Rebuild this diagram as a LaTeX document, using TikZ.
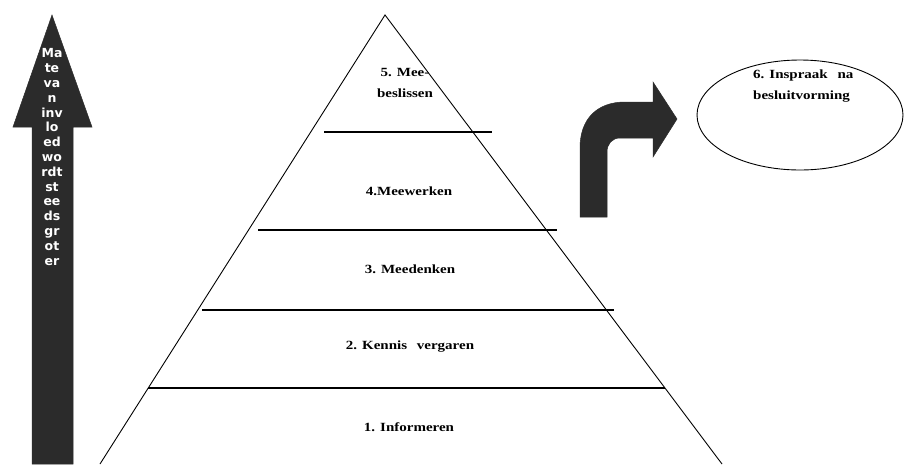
\documentclass[tikz,border=0pt]{standalone}
\usepackage{fontspec}
\newfontfamily\pyrfont{Liberation Serif}[FakeStretch=1.2]
\newfontfamily\arrfont{DejaVu Sans}
\definecolor{arrowgray}{HTML}{2B2B2B}
\begin{document}
\begin{tikzpicture}[x=1pt,y=-1pt,
  edge/.style={black, line width=0.9pt},
  level/.style={black, line width=1.4pt},
  lbl/.style={font=\pyrfont\bfseries\fontsize{12.5}{21}\selectfont, inner sep=0pt, align=center},
  bigarrow/.style={fill=arrowgray, draw=arrowgray, line width=0.5pt}
]
\useasboundingbox (0,0) rectangle (905,464);
\fill[white] (0,0) rectangle (905,464);

% vertical arrow on the left
\path[bigarrow] (52,15) -- (92,127) -- (73,127) -- (73,464) -- (32,464) -- (32,127) -- (13,127) -- cycle;
\node[font=\arrfont\bfseries\fontsize{12.5}{14.8}\selectfont, text=white, align=center, inner sep=0pt] (mate) at (52,157)
  {Ma\\te\\va\\n\\inv\\lo\\ed\\wo\\rdt\\st\\ee\\ds\\gr\\ot\\er};

% pyramid
\coordinate (apex) at (385,15);
\coordinate (bl) at (100,464);
\coordinate (br) at (722,464);
\draw[edge] (bl) -- (apex) -- (br);

\coordinate (a5) at (324,132); \coordinate (b5) at (492,132);
\coordinate (a4) at (258,230); \coordinate (b4) at (557,230);
\coordinate (a3) at (202,310); \coordinate (b3) at (614,310);
\coordinate (a2) at (148,388); \coordinate (b2) at (665,388);
\draw[level] (a5) -- (b5);
\draw[level] (a4) -- (b4);
\draw[level] (a3) -- (b3);
\draw[level] (a2) -- (b2);

\node[lbl] (t5) at (405,83) {5. Mee-\\beslissen};
\node[lbl] (t4) at (409,191) {4.Meewerken};
\node[lbl] (t3) at (410,269) {3. Meedenken};
\node[lbl] (t2) at (410,347) {2. Kennis\hspace{6pt} vergaren};
\node[lbl] (t1) at (409,427) {1. Informeren};

% bent arrow
\path[bigarrow] (580,217) -- (580,148) .. controls (580,118) and (598,102) .. (625,102)
  -- (653,102) -- (653,82) -- (677,119) -- (653,157) -- (653,138) -- (620,138)
  .. controls (612,138) and (607,144) .. (607,152) -- (607,217) -- cycle;

% ellipse
\draw[edge] (800,115) ellipse [x radius=103, y radius=55];
\node[lbl, align=left, anchor=north west] (t6) at (753,70) {6. Inspraak\hspace{6pt} na\\besluitvorming};
\end{tikzpicture}
\end{document}
